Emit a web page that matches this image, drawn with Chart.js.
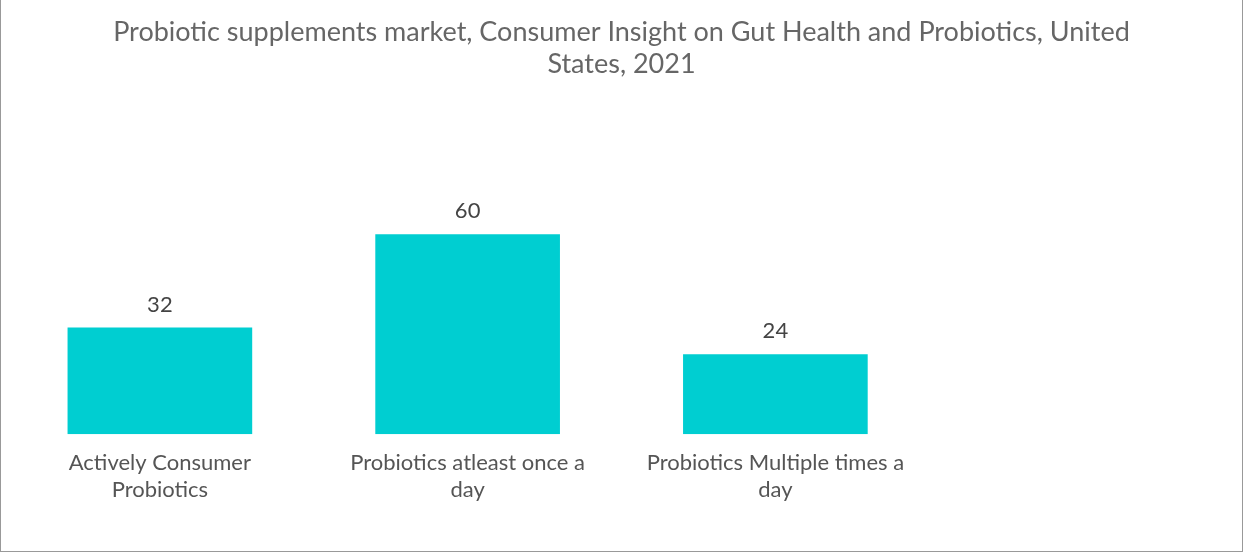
<!DOCTYPE html>
<html>
<head>
<meta charset="utf-8">
<script src="https://cdn.jsdelivr.net/npm/chart.js@4"></script>
<style>
  html, body { margin: 0; padding: 0; background: #fff; }
  #wrap { position: relative; width: 1241px; height: 551px; border-left: 1px solid #999; border-right: 1px solid #999; border-bottom: 1px solid #999; }
</style>
</head>
<body>
<div id="wrap"><canvas id="chart"></canvas></div>
<script>
// chart data
const categories = [
    ["Actively Consumer", "Probiotics"],
    ["Probiotics atleast once a", "day"],
    ["Probiotics Multiple times a", "day"],
    ""
];
const shares = [32, 60, 24, null];
const barColor = "#00CED1";

const valueLabels = {
    id: "valueLabels",
    afterDatasetsDraw(chart) {
        const ctx = chart.ctx;
        ctx.save();
        ctx.font = "22px Lato";
        ctx.fillStyle = "#444";
        ctx.textAlign = "center";
        ctx.textBaseline = "bottom";
        chart.getDatasetMeta(0).data.forEach((bar, i) => {
            if (shares[i] == null) return;
            ctx.fillText(shares[i], bar.x, bar.y - 12);
        });
        ctx.restore();
    }
};

new Chart(document.getElementById("chart"), {
    type: "bar",
    data: {
        labels: categories,
        datasets: [{
            data: shares,
            backgroundColor: barColor,
            categoryPercentage: 0.6,
            barPercentage: 1.0,
        }],
    },
    options: {
        responsive: true,
        maintainAspectRatio: false,
        animation: false,
        layout: { padding: { left: 5, right: 5, top: 0, bottom: 40 } },
        plugins: {
            legend: { display: false },
            tooltip: { enabled: false },
            title: {
                display: true,
                text: ["Probiotic supplements market, Consumer Insight on Gut Health and Probiotics, United", "States, 2021"],
                color: "#666",
                font: { family: "Lato", size: 27, weight: "normal" },
                padding: { top: 16, bottom: 20 },
                lineHeight: 1.4,
            },
        },
        scales: {
            x: {
                grid: { display: false },
                border: { display: false },
                ticks: { color: "#555", font: { family: "Lato", size: 22 }, maxRotation: 0, padding: 8 },
            },
            y: {
                display: false,
                min: 0,
                max: 100,
            },
        },
    },
    plugins: [valueLabels],
});
</script>
</body>
</html>
